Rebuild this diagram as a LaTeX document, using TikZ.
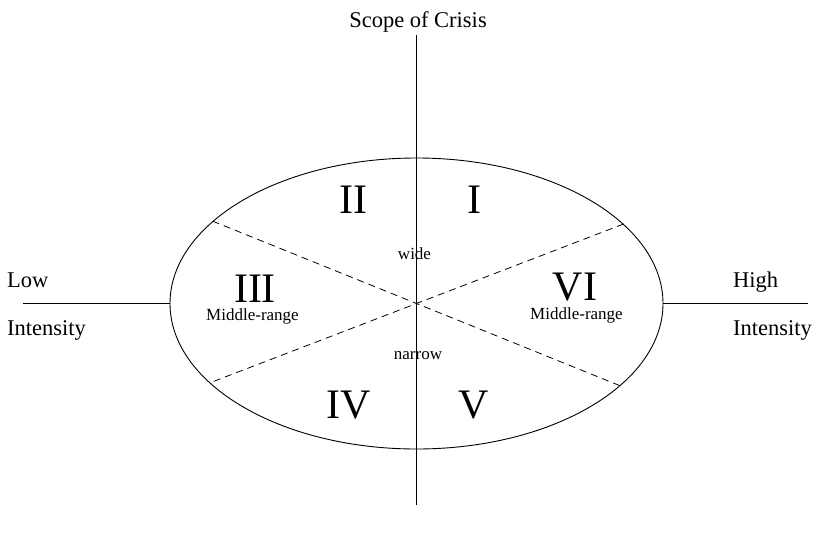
\documentclass[tikz,border=0pt]{standalone}
\usepackage{fontspec}
\setmainfont{Liberation Serif}
\usetikzlibrary{shapes.geometric,positioning}
\tikzset{
  regionoval/.style={ellipse, draw=black, line width=0.9pt, minimum width=493pt,
    minimum height=291pt, inner sep=0pt},
  axisline/.style={draw=black, line width=1.4pt},
  sideline/.style={draw=black, line width=1.2pt},
  splitline/.style={draw=black, line width=0.8pt, dash pattern=on 7pt off 5pt},
  numeral/.style={anchor=base, inner sep=0pt, font=\fontsize{42}{42}\selectfont},
  sublabel/.style={anchor=base, inner sep=0pt, font=\fontsize{17}{17}\selectfont},
  sidelabel/.style={anchor=base west, inner sep=0pt, font=\fontsize{22.5}{22.5}\selectfont},
}

\begin{document}
\begin{tikzpicture}[x=1pt, y=-1pt]
  \useasboundingbox (0,0) rectangle (814,533);

  % The oval and its end points
  \node[regionoval] (oval) at (416.5,303.5) {};
  \coordinate (scopetop) at (416.5,35);
  \coordinate (scopebottom) at (416.5,505);
  \coordinate (lowend) at (23,303.5);
  \coordinate (highend) at (808,303.5);

  % Axes
  \draw[axisline] (scopetop) -- (scopebottom);
  \draw[sideline] (lowend) -- (oval.west);
  \draw[sideline] (oval.east) -- (highend);

  % Dashed splits
  \draw[splitline] (oval.158.5) -- (oval.338.5);
  \draw[splitline] (oval.21.5) -- (oval.201.5);

  % Axis texts
  \node[anchor=base, inner sep=0pt, font=\fontsize{22.5}{22.5}\selectfont] (scope) at (418,27) {Scope of Crisis};
  \node[sidelabel] (low) at (7,287) {Low};
  \node[sidelabel] (lowint) at (7,335) {Intensity};
  \node[sidelabel] (high) at (733,287) {High};
  \node[sidelabel] (highint) at (733,335) {Intensity};

  % Region numerals
  \node[numeral] (r1) at (474,213) {I};
  \node[numeral] (r2) at (353,213) {II};
  \node[numeral] (r3) at (255,302) {III};
  \node[numeral] (r4) at (348.5,418) {IV};
  \node[numeral] (r5) at (473.5,418) {V};
  \node[numeral] (r6) at (575,300) {VI};

  % Region notes
  \node[sublabel] (wide) at (414.5,259) {wide};
  \node[sublabel] (narrow) at (418,359) {narrow};
  \node[sublabel] (midleft) at (252.5,320) {Middle-range};
  \node[sublabel] (midright) at (576.5,319) {Middle-range};

\end{tikzpicture}
\end{document}
